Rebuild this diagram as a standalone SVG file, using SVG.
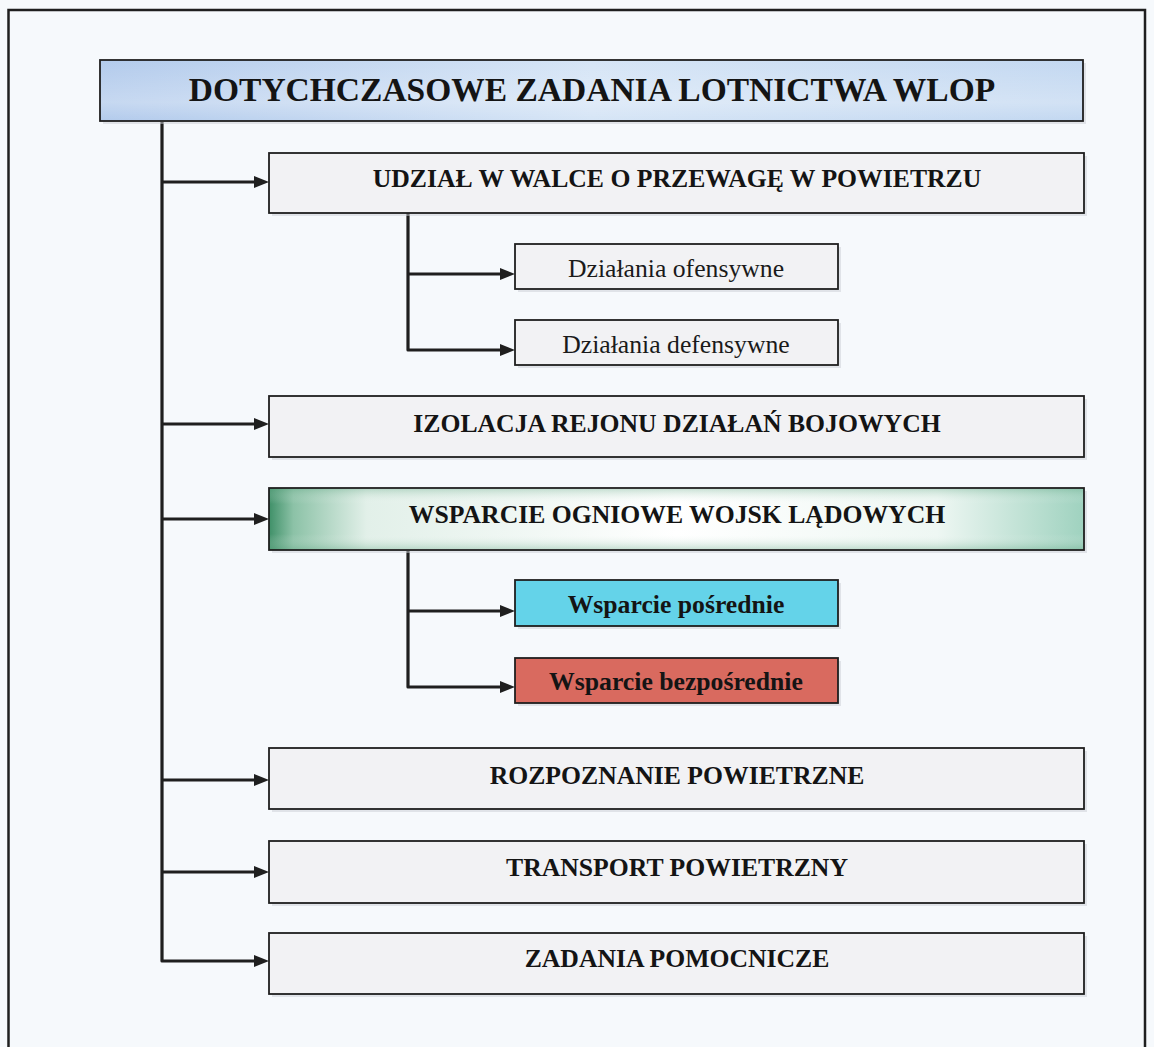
<svg xmlns="http://www.w3.org/2000/svg" width="1154" height="1047" viewBox="0 0 1154 1047">
  <style>
    .box { stroke: #1f1f1f; stroke-width: 1.8; }
    .plain { fill: #f2f2f4; }
    .shadow { fill: #c9ced3; opacity: 0.5; }
    .h { font-family: "Liberation Serif", "Times New Roman", serif; font-weight: bold; font-size: 25.7px; fill: #141414; text-anchor: middle; }
    .title { font-family: "Liberation Serif", "Times New Roman", serif; font-weight: bold; font-size: 33.5px; fill: #141414; text-anchor: middle; }
    .sub { font-family: "Liberation Serif", "Times New Roman", serif; font-size: 25.7px; fill: #1a1a1a; text-anchor: middle; }
    .subb { font-family: "Liberation Serif", "Times New Roman", serif; font-weight: bold; font-size: 25.7px; fill: #141414; text-anchor: middle; }
    .conn { fill: none; stroke: #1f1f1f; stroke-width: 3.2; stroke-linejoin: round; }
  </style>
  <defs>
    <linearGradient id="gTitle" x1="0" y1="0" x2="1" y2="0">
      <stop offset="0" stop-color="#b3cbec"/>
      <stop offset="0.5" stop-color="#d6e5f6"/>
      <stop offset="1" stop-color="#c3d8f1"/>
    </linearGradient>
    <linearGradient id="gTitleV" x1="0" y1="0" x2="0" y2="1">
      <stop offset="0" stop-color="#ffffff" stop-opacity="0"/>
      <stop offset="0.7" stop-color="#ffffff" stop-opacity="0.25"/>
      <stop offset="1" stop-color="#ffffff" stop-opacity="0"/>
    </linearGradient>
    <linearGradient id="gGreen" x1="0" y1="0" x2="1" y2="0">
      <stop offset="0" stop-color="#3f9068"/>
      <stop offset="0.03" stop-color="#8cc2a7"/>
      <stop offset="0.12" stop-color="#e2f0e9"/>
      <stop offset="0.5" stop-color="#ffffff"/>
      <stop offset="0.82" stop-color="#eef7f3"/>
      <stop offset="1" stop-color="#9fd2bf"/>
    </linearGradient>
    <linearGradient id="gGreenV" x1="0" y1="0" x2="0" y2="1">
      <stop offset="0" stop-color="#6aab8a" stop-opacity="0.35"/>
      <stop offset="0.25" stop-color="#ffffff" stop-opacity="0"/>
      <stop offset="0.75" stop-color="#ffffff" stop-opacity="0"/>
      <stop offset="1" stop-color="#6aab8a" stop-opacity="0.35"/>
    </linearGradient>
  </defs>

  <rect x="0" y="0" width="1154" height="1047" fill="#f6f9fc"/>
  <rect id="frame" x="8.5" y="10" width="1136.5" height="1060" fill="none" stroke="#1f1f1f" stroke-width="2.5"/>

  <g id="connectors">
    <path class="conn" d="M162,122 V961 H255"/>
    <path class="conn" d="M162,182 H255"/>
    <path class="conn" d="M162,424 H255"/>
    <path class="conn" d="M162,519 H255"/>
    <path class="conn" d="M162,780 H255"/>
    <path class="conn" d="M162,872 H255"/>
    <path class="conn" d="M408,213 V350 H501"/>
    <path class="conn" d="M408,274 H501"/>
    <path class="conn" d="M408,551 V687 H501"/>
    <path class="conn" d="M408,611 H501"/>
    <g fill="#1f1f1f">
      <path d="M254,176 L269,182 L254,188 Z"/>
      <path d="M254,418 L269,424 L254,430 Z"/>
      <path d="M254,513 L269,519 L254,525 Z"/>
      <path d="M254,774 L269,780 L254,786 Z"/>
      <path d="M254,866 L269,872 L254,878 Z"/>
      <path d="M254,955 L269,961 L254,967 Z"/>
      <path d="M500,268 L515,274 L500,280 Z"/>
      <path d="M500,344 L515,350 L500,356 Z"/>
      <path d="M500,605 L515,611 L500,617 Z"/>
      <path d="M500,681 L515,687 L500,693 Z"/>
    </g>
  </g>

  <g id="title">
    <rect class="shadow" x="103" y="63" width="983" height="61"/>
    <rect class="box" x="100" y="60" width="983" height="61" fill="url(#gTitle)"/>
    <rect x="101" y="61" width="981" height="59" fill="url(#gTitleV)"/>
    <text class="title" x="592" y="101">DOTYCHCZASOWE ZADANIA LOTNICTWA WLOP</text>
  </g>

  <g id="udzial">
    <rect class="shadow" x="272" y="156" width="815" height="60"/>
    <rect class="box plain" x="269" y="153" width="815" height="60"/>
    <text class="h" x="677" y="187">UDZIAŁ W WALCE O PRZEWAGĘ W POWIETRZU</text>
  </g>

  <g id="ofensywne">
    <rect class="shadow" x="518" y="247" width="323" height="45"/>
    <rect class="box plain" x="515" y="244" width="323" height="45"/>
    <text class="sub" x="676" y="277">Działania ofensywne</text>
  </g>

  <g id="defensywne">
    <rect class="shadow" x="518" y="323" width="323" height="45"/>
    <rect class="box plain" x="515" y="320" width="323" height="45"/>
    <text class="sub" x="676" y="353">Działania defensywne</text>
  </g>

  <g id="izolacja">
    <rect class="shadow" x="272" y="399" width="815" height="61"/>
    <rect class="box plain" x="269" y="396" width="815" height="61"/>
    <text class="h" x="677" y="432">IZOLACJA REJONU DZIAŁAŃ BOJOWYCH</text>
  </g>

  <g id="wsparcie">
    <rect class="shadow" x="272" y="491" width="815" height="62"/>
    <rect class="box" x="269" y="488" width="815" height="62" fill="url(#gGreen)"/>
    <rect x="270" y="489" width="813" height="60" fill="url(#gGreenV)"/>
    <text class="h" x="677" y="523">WSPARCIE OGNIOWE WOJSK LĄDOWYCH</text>
  </g>

  <g id="posrednie">
    <rect class="shadow" x="518" y="583" width="323" height="46"/>
    <rect class="box" x="515" y="580" width="323" height="46" fill="#64d3e9"/>
    <text class="subb" x="676" y="613">Wsparcie pośrednie</text>
  </g>

  <g id="bezposrednie">
    <rect class="shadow" x="518" y="661" width="323" height="45"/>
    <rect class="box" x="515" y="658" width="323" height="45" fill="#d96a5f"/>
    <text class="subb" x="676" y="690">Wsparcie bezpośrednie</text>
  </g>

  <g id="rozpoznanie">
    <rect class="shadow" x="272" y="751" width="815" height="61"/>
    <rect class="box plain" x="269" y="748" width="815" height="61"/>
    <text class="h" x="677" y="784">ROZPOZNANIE POWIETRZNE</text>
  </g>

  <g id="transport">
    <rect class="shadow" x="272" y="844" width="815" height="62"/>
    <rect class="box plain" x="269" y="841" width="815" height="62"/>
    <text class="h" x="677" y="876">TRANSPORT POWIETRZNY</text>
  </g>

  <g id="pomocnicze">
    <rect class="shadow" x="272" y="936" width="815" height="61"/>
    <rect class="box plain" x="269" y="933" width="815" height="61"/>
    <text class="h" x="677" y="967">ZADANIA POMOCNICZE</text>
  </g>
</svg>
